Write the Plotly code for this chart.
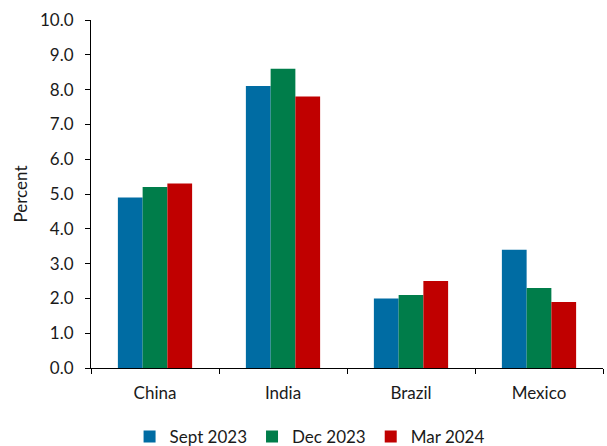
import plotly.graph_objects as go

categories = ["China", "India", "Brazil", "Mexico"]
sept_2023 = [4.9, 8.1, 2.0, 3.4]
dec_2023 = [5.2, 8.6, 2.1, 2.3]
mar_2024 = [5.3, 7.8, 2.5, 1.9]
series_names = ["Sept 2023", "Dec 2023", "Mar 2024"]
colors = ["#006CA3", "#007D4A", "#C00000"]

fig = go.Figure()
for name, vals, col in zip(series_names, [sept_2023, dec_2023, mar_2024], colors):
    fig.add_trace(go.Bar(x=categories, y=vals, name=name, marker_color=col,
                         marker_line_width=0))

font = dict(family="Lato, Carlito, Calibri, sans-serif", size=17, color="#1a1a1a")
fig.update_layout(
    width=607, height=446, autosize=False,
    margin=dict(l=91, r=4, t=20, b=78, autoexpand=False),
    paper_bgcolor="white", plot_bgcolor="white",
    font=font,
    barmode="group", bargap=0.42, bargroupgap=0,
    showlegend=True,
    legend=dict(orientation="h", xref="container", yref="container",
                x=0.51, xanchor="center", y=9 / 446, yanchor="middle",
                font=font, itemwidth=30, traceorder="normal"),
    xaxis=dict(showline=True, linecolor="black", linewidth=1, ticks="outside",
               tickson="boundaries", ticklen=5, tickcolor="black",
               showgrid=False, ticklabelstandoff=10),
    yaxis=dict(range=[0, 10], dtick=1, tickformat=".1f", showline=True,
               linecolor="black", linewidth=1, ticks="outside", ticklen=5,
               tickcolor="black", showgrid=False, zeroline=False,
               ticklabelstandoff=8,
               title=dict(text="Percent", standoff=8, font=font)),
)
fig.write_html("out.html")
